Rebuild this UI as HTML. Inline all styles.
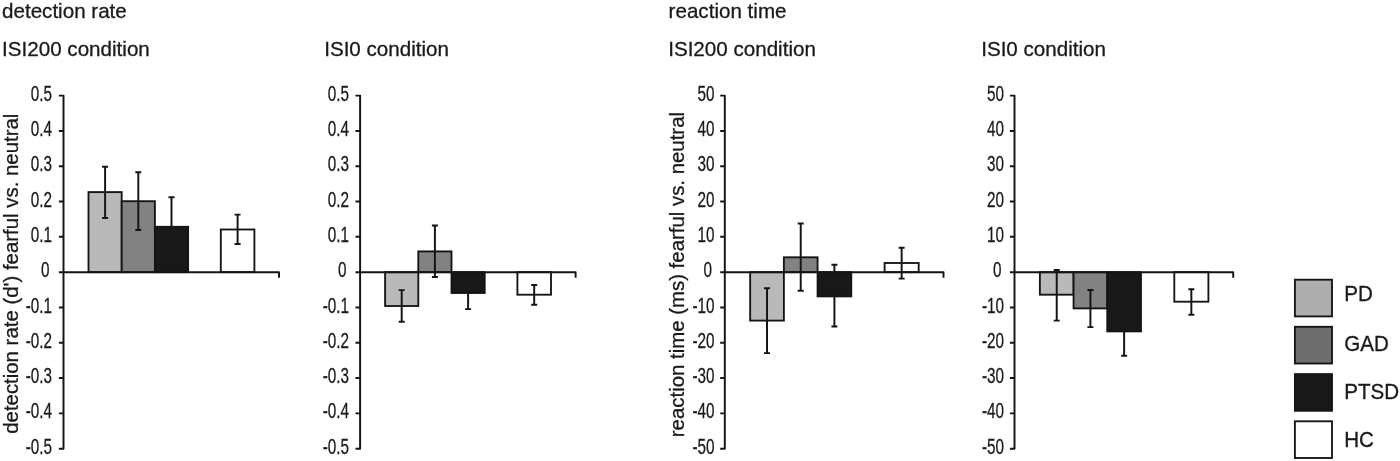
<!DOCTYPE html>
<html lang="en"><head><meta charset="utf-8"><title>detection rate and reaction time</title>
<style>html,body{margin:0;padding:0;background:#fff}body{width:1400px;height:461px;overflow:hidden}svg{display:block}text{font-family:"Liberation Sans", sans-serif;fill:#1a1a1a;stroke:#1a1a1a;stroke-width:.3px}.t{font-size:20.6px}.y{font-size:20.4px}.k{font-size:22px}.ax{stroke:#141414;stroke-width:1.95;fill:none;stroke-linejoin:round}.b{stroke:#141414;stroke-width:1.85}.e{stroke:#141414;stroke-width:1.95;fill:none}</style>
</head><body>
<svg width="1400" height="461" viewBox="0 0 1400 461">
<rect width="1400" height="461" fill="#fff"/>
<rect class="b" x="88.5" y="192.1" width="33.2" height="80.05" fill="#b9b9b9"/>
<rect class="b" x="121.7" y="201.2" width="33.2" height="70.95" fill="#828282"/>
<path class="e" d="M168.5 197.2 H174.5 M171.5 197.2 V255 M168.5 255 H174.5"/>
<rect class="b" x="154.9" y="226.8" width="33.2" height="45.35" fill="#181818"/>
<rect class="b" x="220.8" y="229.5" width="33.6" height="42.65" fill="#ffffff"/>
<path class="ax" d="M58.9 95.6 H63.5 V448.7 H58.9 M58.9 130.91 H63.5 M58.9 166.22 H63.5 M58.9 201.53 H63.5 M58.9 236.84 H63.5 M58.9 272.15 H63.5 M58.9 307.46 H63.5 M58.9 342.77 H63.5 M58.9 378.08 H63.5 M58.9 413.39 H63.5 M58.9 272.15 H279 V277.75"/>
<path class="e" d="M102.1 166.7 H108.1 M105.1 166.7 V218 M102.1 218 H108.1"/>
<path class="e" d="M135.3 172.2 H141.3 M138.3 172.2 V229.9 M135.3 229.9 H141.3"/>
<path class="e" d="M234.6 214.6 H240.6 M237.6 214.6 V243.9 M234.6 243.9 H240.6"/>
<text class="k" text-anchor="end" transform="translate(52 100.7) scale(0.695 1)">0.5</text>
<text class="k" text-anchor="end" transform="translate(52 136.01) scale(0.695 1)">0.4</text>
<text class="k" text-anchor="end" transform="translate(52 171.32) scale(0.695 1)">0.3</text>
<text class="k" text-anchor="end" transform="translate(52 206.63) scale(0.695 1)">0.2</text>
<text class="k" text-anchor="end" transform="translate(52 241.94) scale(0.695 1)">0.1</text>
<text class="k" text-anchor="end" transform="translate(49.5 277.25) scale(0.695 1)">0</text>
<text class="k" text-anchor="end" transform="translate(52 312.56) scale(0.695 1)">-0.1</text>
<text class="k" text-anchor="end" transform="translate(52 347.87) scale(0.695 1)">-0.2</text>
<text class="k" text-anchor="end" transform="translate(52 383.18) scale(0.695 1)">-0.3</text>
<text class="k" text-anchor="end" transform="translate(52 418.49) scale(0.695 1)">-0.4</text>
<text class="k" text-anchor="end" transform="translate(52 453.8) scale(0.695 1)">-0.5</text>
<rect class="b" x="385.1" y="272.15" width="33.2" height="33.85" fill="#b9b9b9"/>
<rect class="b" x="418.3" y="251.4" width="33.2" height="20.75" fill="#828282"/>
<path class="e" d="M465.1 277 H471.1 M468.1 277 V309.1 M465.1 309.1 H471.1"/>
<rect class="b" x="451.5" y="272.15" width="33.2" height="20.85" fill="#181818"/>
<rect class="b" x="517.4" y="272.15" width="33.6" height="22.55" fill="#ffffff"/>
<path class="ax" d="M355.5 95.6 H360.1 V448.7 H355.5 M355.5 130.91 H360.1 M355.5 166.22 H360.1 M355.5 201.53 H360.1 M355.5 236.84 H360.1 M355.5 272.15 H360.1 M355.5 307.46 H360.1 M355.5 342.77 H360.1 M355.5 378.08 H360.1 M355.5 413.39 H360.1 M355.5 272.15 H575.6 V277.75"/>
<path class="e" d="M398.7 290.1 H404.7 M401.7 290.1 V321.8 M398.7 321.8 H404.7"/>
<path class="e" d="M431.9 225.5 H437.9 M434.9 225.5 V276.9 M431.9 276.9 H437.9"/>
<path class="e" d="M531.2 284.9 H537.2 M534.2 284.9 V304.8 M531.2 304.8 H537.2"/>
<text class="k" text-anchor="end" transform="translate(349 100.7) scale(0.695 1)">0.5</text>
<text class="k" text-anchor="end" transform="translate(349 136.01) scale(0.695 1)">0.4</text>
<text class="k" text-anchor="end" transform="translate(349 171.32) scale(0.695 1)">0.3</text>
<text class="k" text-anchor="end" transform="translate(349 206.63) scale(0.695 1)">0.2</text>
<text class="k" text-anchor="end" transform="translate(349 241.94) scale(0.695 1)">0.1</text>
<text class="k" text-anchor="end" transform="translate(346.5 277.25) scale(0.695 1)">0</text>
<text class="k" text-anchor="end" transform="translate(349 312.56) scale(0.695 1)">-0.1</text>
<text class="k" text-anchor="end" transform="translate(349 347.87) scale(0.695 1)">-0.2</text>
<text class="k" text-anchor="end" transform="translate(349 383.18) scale(0.695 1)">-0.3</text>
<text class="k" text-anchor="end" transform="translate(349 418.49) scale(0.695 1)">-0.4</text>
<text class="k" text-anchor="end" transform="translate(349 453.8) scale(0.695 1)">-0.5</text>
<rect class="b" x="750.17" y="272.15" width="33.7" height="48.45" fill="#b9b9b9"/>
<rect class="b" x="783.87" y="257.3" width="33.7" height="14.85" fill="#828282"/>
<path class="e" d="M831.42 264.7 H837.42 M834.42 264.7 V326.4 M831.42 326.4 H837.42"/>
<rect class="b" x="817.57" y="272.15" width="33.7" height="24.25" fill="#181818"/>
<rect class="b" x="884.6" y="263" width="34.1" height="9.15" fill="#ffffff"/>
<path class="ax" d="M720.2 95.6 H724.8 V448.7 H720.2 M720.2 130.91 H724.8 M720.2 166.22 H724.8 M720.2 201.53 H724.8 M720.2 236.84 H724.8 M720.2 272.15 H724.8 M720.2 307.46 H724.8 M720.2 342.77 H724.8 M720.2 378.08 H724.8 M720.2 413.39 H724.8 M720.2 272.15 H943.5 V277.75"/>
<path class="e" d="M764.02 288.3 H770.02 M767.02 288.3 V353.1 M764.02 353.1 H770.02"/>
<path class="e" d="M797.72 223.5 H803.72 M800.72 223.5 V290.8 M797.72 290.8 H803.72"/>
<path class="e" d="M898.65 247.7 H904.65 M901.65 247.7 V278.6 M898.65 278.6 H904.65"/>
<text class="k" text-anchor="end" transform="translate(714.5 100.7) scale(0.695 1)">50</text>
<text class="k" text-anchor="end" transform="translate(714.5 136.01) scale(0.695 1)">40</text>
<text class="k" text-anchor="end" transform="translate(714.5 171.32) scale(0.695 1)">30</text>
<text class="k" text-anchor="end" transform="translate(714.5 206.63) scale(0.695 1)">20</text>
<text class="k" text-anchor="end" transform="translate(714.5 241.94) scale(0.695 1)">10</text>
<text class="k" text-anchor="end" transform="translate(712 277.25) scale(0.695 1)">0</text>
<text class="k" text-anchor="end" transform="translate(714.5 312.56) scale(0.695 1)">-10</text>
<text class="k" text-anchor="end" transform="translate(714.5 347.87) scale(0.695 1)">-20</text>
<text class="k" text-anchor="end" transform="translate(714.5 383.18) scale(0.695 1)">-30</text>
<text class="k" text-anchor="end" transform="translate(714.5 418.49) scale(0.695 1)">-40</text>
<text class="k" text-anchor="end" transform="translate(714.5 453.8) scale(0.695 1)">-50</text>
<rect class="b" x="1039.88" y="272.15" width="33.7" height="22.55" fill="#b9b9b9"/>
<rect class="b" x="1073.57" y="272.15" width="33.7" height="36.25" fill="#828282"/>
<path class="e" d="M1121.12 308 H1127.12 M1124.12 308 V355.8 M1121.12 355.8 H1127.12"/>
<rect class="b" x="1107.27" y="272.15" width="33.7" height="59.25" fill="#181818"/>
<rect class="b" x="1174.3" y="272.15" width="34.1" height="29.55" fill="#ffffff"/>
<path class="ax" d="M1009.9 95.6 H1014.5 V448.7 H1009.9 M1009.9 130.91 H1014.5 M1009.9 166.22 H1014.5 M1009.9 201.53 H1014.5 M1009.9 236.84 H1014.5 M1009.9 272.15 H1014.5 M1009.9 307.46 H1014.5 M1009.9 342.77 H1014.5 M1009.9 378.08 H1014.5 M1009.9 413.39 H1014.5 M1009.9 272.15 H1233.2 V277.75"/>
<path class="e" d="M1053.72 270 H1059.72 M1056.72 270 V320.6 M1053.72 320.6 H1059.72"/>
<path class="e" d="M1087.42 289.9 H1093.42 M1090.42 289.9 V327.1 M1087.42 327.1 H1093.42"/>
<path class="e" d="M1188.35 289.2 H1194.35 M1191.35 289.2 V314.8 M1188.35 314.8 H1194.35"/>
<text class="k" text-anchor="end" transform="translate(1004 100.7) scale(0.695 1)">50</text>
<text class="k" text-anchor="end" transform="translate(1004 136.01) scale(0.695 1)">40</text>
<text class="k" text-anchor="end" transform="translate(1004 171.32) scale(0.695 1)">30</text>
<text class="k" text-anchor="end" transform="translate(1004 206.63) scale(0.695 1)">20</text>
<text class="k" text-anchor="end" transform="translate(1004 241.94) scale(0.695 1)">10</text>
<text class="k" text-anchor="end" transform="translate(1001.5 277.25) scale(0.695 1)">0</text>
<text class="k" text-anchor="end" transform="translate(1004 312.56) scale(0.695 1)">-10</text>
<text class="k" text-anchor="end" transform="translate(1004 347.87) scale(0.695 1)">-20</text>
<text class="k" text-anchor="end" transform="translate(1004 383.18) scale(0.695 1)">-30</text>
<text class="k" text-anchor="end" transform="translate(1004 418.49) scale(0.695 1)">-40</text>
<text class="k" text-anchor="end" transform="translate(1004 453.8) scale(0.695 1)">-50</text>
<text class="t" x="2" y="17.5">detection rate</text>
<text class="t" x="2.1" y="56.3">ISI200 condition</text>
<text class="t" x="324.2" y="56.3">ISI0 condition</text>
<text class="t" x="668.6" y="17.5">reaction time</text>
<text class="t" x="668.2" y="56.3">ISI200 condition</text>
<text class="t" x="981.2" y="56.3">ISI0 condition</text>
<text class="y" transform="translate(17.8 433.8) rotate(-90)">detection rate (d') fearful vs. neutral</text>
<text class="y" transform="translate(683.8 437.2) rotate(-90)">reaction time (ms) fearful vs. neutral</text>
<rect class="b" x="1294.9" y="279.7" width="37.1" height="36.7" fill="#adadad"/>
<text class="t" transform="translate(1344.2 301.3) scale(1 1.04)">PD</text>
<rect class="b" x="1294.9" y="326.8" width="37.1" height="36.7" fill="#6e6e6e"/>
<text class="t" transform="translate(1344.2 350.6) scale(1 1.04)">GAD</text>
<rect class="b" x="1294.9" y="374.1" width="37.1" height="36.7" fill="#181818"/>
<text class="t" transform="translate(1344.2 398.9) scale(1 1.04)">PTSD</text>
<rect class="b" x="1294.9" y="421.3" width="37.1" height="36.7" fill="#ffffff"/>
<text class="t" transform="translate(1344.2 446.9) scale(1 1.04)">HC</text>
</svg>
</body></html>
